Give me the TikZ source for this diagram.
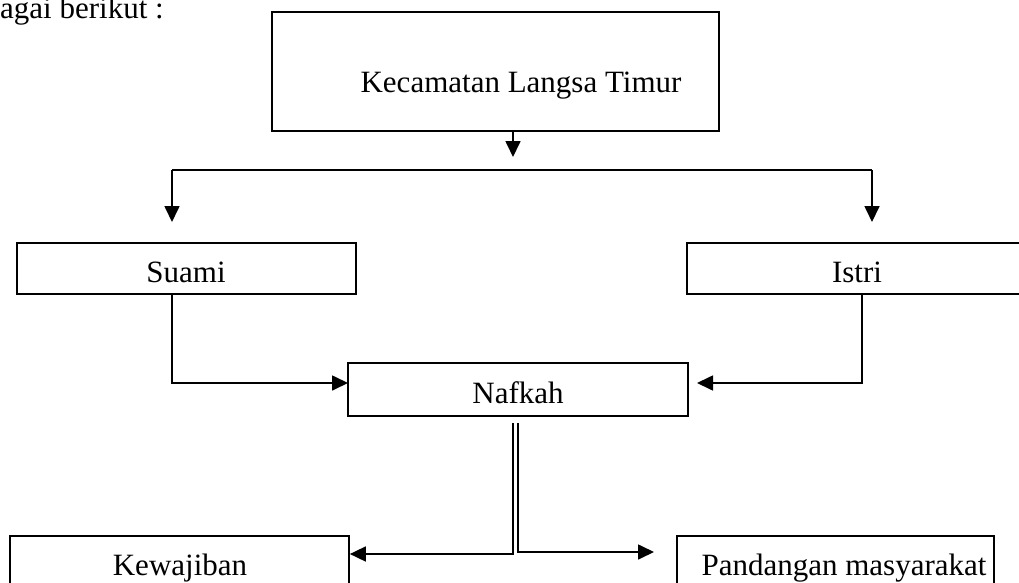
\documentclass[tikz,border=0pt]{standalone}
\usepackage{fontspec}
\setmainfont{Liberation Serif}
\usetikzlibrary{arrows.meta}
\begin{document}
\begin{tikzpicture}[x=1pt,y=-1pt,
  box/.style={draw, line width=1.7pt, rectangle, inner sep=0pt},
  lbl/.style={inner sep=0pt, anchor=base, font=\fontsize{31}{36}\selectfont},
  conn/.style={line width=1.7pt},
  arr/.style={line width=1.7pt, -{Triangle[length=16pt,width=15pt]}}]
\clip (0,0) rectangle (1019,583);
\useasboundingbox (0,0) rectangle (1019,583);
% boxes
\node[box, minimum width=447pt, minimum height=119pt] (kec) at (495.5,71.5) {};
\node[box, minimum width=339pt, minimum height=51pt] (suami) at (186.5,268.5) {};
\node[box, minimum width=340pt, minimum height=51pt] (istri) at (857,268.5) {};
\node[box, minimum width=340pt, minimum height=53pt] (nafkah) at (518,389.5) {};
\node[box, minimum width=339pt, minimum height=70pt] (kew) at (179.5,571) {};
\node[box, minimum width=317pt, minimum height=70pt] (pand) at (835.5,571) {};
% texts
\node[lbl, anchor=base west] (intro) at (0,19) {agai berikut :};
\node[lbl] (kect) at (521,93) {Kecamatan Langsa Timur};
\node[lbl] (suamit) at (186,282) {Suami};
\node[lbl] (istrit) at (857,282) {Istri};
\node[lbl] (nafkaht) at (518,403) {Nafkah};
\node[lbl] (kewt) at (180,575) {Kewajiban};
\node[lbl] (pandt) at (844,575) {Pandangan masyarakat};
% coordinates
\coordinate (ktip) at (513,157);
\coordinate (jL) at (172,170);
\coordinate (jR) at (872,170);
\coordinate (tipL) at (172,222);
\coordinate (tipR) at (872,222);
\coordinate (scol) at (172,383);
\coordinate (stip) at (348,383);
\coordinate (icol) at (862,383);
\coordinate (itip) at (697,383);
\coordinate (dLt) at (513,423);
\coordinate (dRt) at (518,423);
\coordinate (dL) at (513,554);
\coordinate (dR) at (518,552);
\coordinate (ptip) at (654,552);
% connectors
\draw[arr] (kec.south -| ktip) -- (ktip);
\draw[conn] (jL) -- (jR);
\draw[arr] (jL) -- (tipL);
\draw[arr] (jR) -- (tipR);
\draw[arr] (suami.south -| scol) -- (scol) -- (stip);
\draw[arr] (istri.south -| icol) -- (icol) -- (itip);
\draw[arr] (dLt) -- (dL) -- (kew.east |- dL);
\draw[arr] (dRt) -- (dR) -- (ptip);
\end{tikzpicture}
\end{document}
